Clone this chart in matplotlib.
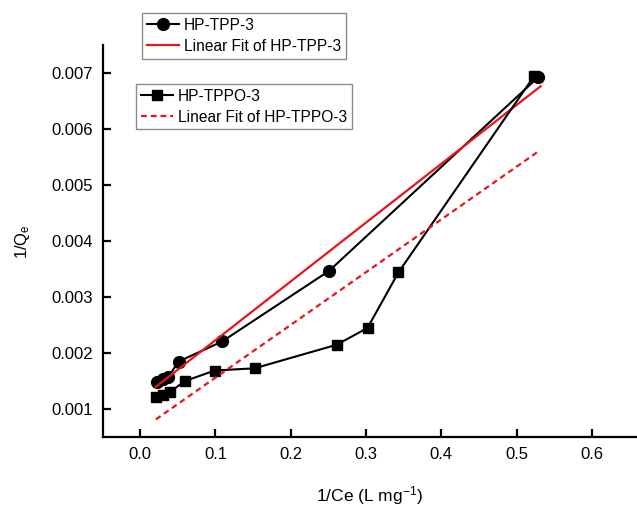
import matplotlib.pyplot as plt
import numpy as np

plt.rcParams['font.family'] = ['Liberation Sans', 'DejaVu Sans']
plt.rcParams['mathtext.fontset'] = 'custom'
plt.rcParams['mathtext.rm'] = 'Liberation Sans'
plt.rcParams['mathtext.it'] = 'Liberation Sans:italic'

# HP-TPP-3 (circles)
tpp_x = [0.0227, 0.030, 0.037, 0.051, 0.109, 0.251, 0.529]
tpp_y = [0.00148, 0.00153, 0.00157, 0.00185, 0.00221, 0.00347, 0.00693]
# HP-TPPO-3 (squares)
tppo_x = [0.0208, 0.030, 0.040, 0.059, 0.099, 0.152, 0.261, 0.302, 0.343, 0.523]
tppo_y = [0.00122, 0.00125, 0.00131, 0.00150, 0.00169, 0.00173, 0.00215, 0.00245, 0.00344, 0.00694]

# linear fits (slope, intercept)
fit_tpp = (0.010495, 0.001182)
fit_tppo = (0.009414, 0.000622)

xticks = [0.0, 0.1, 0.2, 0.3, 0.4, 0.5, 0.6]
yticks = [0.001, 0.002, 0.003, 0.004, 0.005, 0.006, 0.007]

fig = plt.figure(figsize=(6.37, 5.18), dpi=100)
ax = fig.add_axes([0.161, 0.156, 0.839, 0.757])

l1, = ax.plot(tpp_x, tpp_y, '-o', color='black', lw=1.5, markersize=8.5)
fx = np.array([min(tpp_x) - 0.002, max(tpp_x) + 0.003])
l2, = ax.plot(fx, fit_tpp[0] * fx + fit_tpp[1], '-', color='#e8141b', lw=1.6)

l3, = ax.plot(tppo_x, tppo_y, '-s', color='black', lw=1.5, markersize=7)
fx2 = np.array([min(tppo_x), max(tppo_x) + 0.004])
l4, = ax.plot(fx2, fit_tppo[0] * fx2 + fit_tppo[1], '--', color='#e8141b', lw=1.6,
              dashes=(2.6, 1.8))

ax.set_xlim(-0.05, 0.66)
ax.set_ylim(0.0005, 0.0075)
ax.set_xticks(xticks)
ax.set_xticklabels(['%.1f' % t for t in xticks])
ax.set_yticks(yticks)
ax.set_yticklabels(['%.3f' % t for t in yticks])

ax.spines['top'].set_visible(False)
ax.spines['right'].set_visible(False)
for s in ['left', 'bottom']:
    ax.spines[s].set_linewidth(1.6)
ax.tick_params(direction='in', length=6, width=1.6, labelsize=12, pad=7)

ax.set_xlabel('1/Ce (L mg$^{\\mathregular{-1}}$)', fontsize=12.5, labelpad=16)
ax.set_ylabel('1/Q$_\\mathregular{e}$', fontsize=12, labelpad=14)

leg_kw = dict(loc='upper left', fontsize=11.2, frameon=True, fancybox=False,
              edgecolor='#8c8c8c', framealpha=1, borderaxespad=0,
              handlelength=2.1, handletextpad=0.3, labelspacing=0.4,
              borderpad=0.3)
leg1 = fig.legend([l1, l2], ['HP-TPP-3', 'Linear Fit of HP-TPP-3'],
                  bbox_to_anchor=(0.223, 0.975), **leg_kw)
leg2 = fig.legend([l3, l4], ['HP-TPPO-3', 'Linear Fit of HP-TPPO-3'],
                  bbox_to_anchor=(0.2135, 0.838), **leg_kw)
for leg in (leg1, leg2):
    leg.get_frame().set_linewidth(1.0)

fig.savefig('out.png', dpi=100)
